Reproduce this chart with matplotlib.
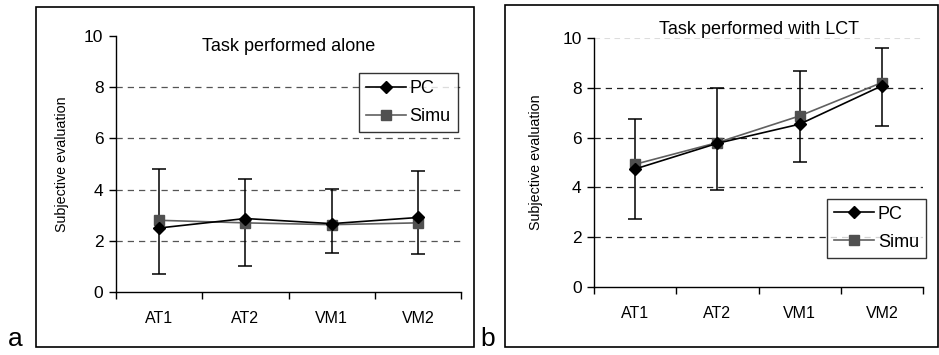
import matplotlib
matplotlib.use("Agg")
import matplotlib.pyplot as plt
from matplotlib.patches import Rectangle
import numpy as np

plt.rcParams['font.family'] = ['Liberation Sans', 'DejaVu Sans']

categories = ["AT1", "AT2", "VM1", "VM2"]

# Panel a: task performed alone
a_pc = [2.5, 2.87, 2.67, 2.91]
a_simu = [2.8, 2.7, 2.63, 2.7]
a_err_low = [0.72, 1.02, 1.53, 1.47]
a_err_high = [4.82, 4.41, 4.02, 4.72]

# Panel b: task performed with LCT
b_pc = [4.74, 5.77, 6.54, 8.08]
b_simu = [4.93, 5.8, 6.87, 8.21]
b_err_low = [2.75, 3.89, 5.03, 6.47]
b_err_high = [6.74, 7.99, 8.66, 9.6]

fig = plt.figure(figsize=(9.39, 3.55), dpi=100)

def draw(ax, pc, simu, lo, hi, title, title_y, legend_loc, grid_color, top_line, ylpad):
    x = np.arange(len(categories))
    lo = np.array(lo); hi = np.array(hi)
    mid = (lo + hi) / 2
    for yv in [2, 4, 6, 8]:
        ax.axhline(yv, color=grid_color, lw=0.9, ls=(0, (5, 4)), zorder=0)
    if top_line:
        ax.axhline(10, color='#dddddd', lw=0.8, ls=(0, (5, 4)), zorder=0)
    ax.errorbar(x, mid, yerr=[mid - lo, hi - mid], fmt='none', ecolor='black',
                elinewidth=1.1, capsize=5, capthick=1.1, zorder=2)
    ax.plot(x, pc, color='black', lw=1.2, marker='D', markersize=6,
            markerfacecolor='black', markeredgecolor='black', label='PC', zorder=4)
    ax.plot(x, simu, color='#606060', lw=1.2, marker='s', markersize=7,
            markerfacecolor='#505050', markeredgecolor='#505050', label='Simu', zorder=3)
    ax.set_xlim(-0.5, 3.5)
    ax.set_ylim(0, 10)
    ax.set_yticks([0, 2, 4, 6, 8, 10])
    ax.set_xticks(x)
    ax.set_xticklabels(categories, fontsize=11.5)
    ax.set_xticks(np.arange(-0.5, 4, 1), minor=True)
    ax.tick_params(axis='x', which='major', length=0, pad=14)
    ax.tick_params(axis='x', which='minor', length=5, direction='out', width=1)
    ax.tick_params(axis='y', length=5, direction='out', labelsize=12.5, width=1, pad=4)
    for s in ['top', 'right']:
        ax.spines[s].set_visible(False)
    for s in ['left', 'bottom']:
        ax.spines[s].set_linewidth(1)
    ax.set_ylabel('Subjective evaluation', fontsize=10.3, labelpad=ylpad)
    ax.text(0.5, title_y, title, transform=ax.transAxes, ha='center', va='center', fontsize=13)
    leg = ax.legend(loc=legend_loc, fontsize=13, frameon=True, fancybox=False,
                    edgecolor='black', handlelength=2.2, borderpad=0.4,
                    labelspacing=0.6, handletextpad=0.2, borderaxespad=0.1)
    leg.get_frame().set_linewidth(1)

ax_a = fig.add_axes([0.1235, 0.1775, 0.3675, 0.7211])
draw(ax_a, a_pc, a_simu, a_err_low, a_err_high, 'Task performed alone', 0.96,
     'upper right', '#555555', False, 11)
ax_a.legend_.set_bbox_to_anchor((0.995, 0.862), transform=ax_a.transAxes)

ax_b = fig.add_axes([0.6326, 0.1915, 0.3504, 0.7015])
draw(ax_b, b_pc, b_simu, b_err_low, b_err_high, 'Task performed with LCT', 1.035,
     'lower right', '#222222', True, 14)
ax_b.legend_.set_bbox_to_anchor((1.015, 0.11), transform=ax_b.transAxes)

fig.patches.append(Rectangle((0.0383, 0.0225), 0.467, 0.9575, transform=fig.transFigure,
                             fill=False, edgecolor='black', lw=1.2))
fig.patches.append(Rectangle((0.538, 0.0225), 0.4605, 0.9635, transform=fig.transFigure,
                             fill=False, edgecolor='black', lw=1.2))
fig.text(0.008, 0.045, 'a', fontsize=19, ha='left', va='center')
fig.text(0.512, 0.045, 'b', fontsize=19, ha='left', va='center')

fig.savefig('out.png', dpi=100)
